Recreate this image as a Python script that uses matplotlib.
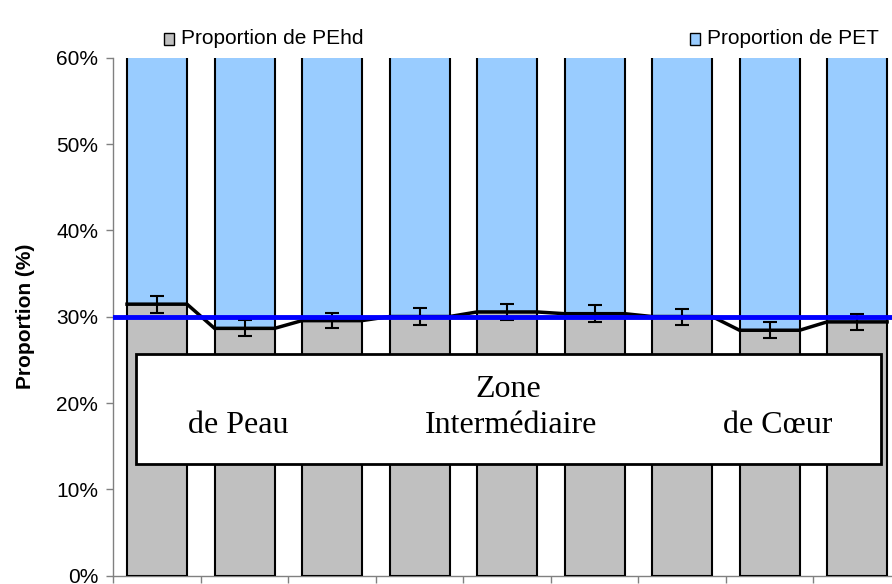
import matplotlib
matplotlib.use("Agg")
import matplotlib.pyplot as plt
from matplotlib.patches import Rectangle
import numpy as np

# ---- data ----
categories = [f"Z{i}" for i in range(1, 10)]
pehd = [31.45, 28.65, 29.55, 30.02, 30.55, 30.35, 30.02, 28.43, 29.4]
pehd_err = [0.97, 0.93, 0.85, 0.97, 0.97, 0.97, 0.93, 0.93, 0.95]
pet = [100 - v for v in pehd]
reference_level = 30.0
series_names = ["Proportion de PEhd", "Proportion de PET"]
yticks = [0, 10, 20, 30, 40, 50, 60]
ytick_labels = ["0%", "10%", "20%", "30%", "40%", "50%", "60%"]
zone_labels = ["Zone", "de Peau", "Intermédiaire", "de Cœur"]

GRAY = "#C0C0C0"
BLUE = "#99CCFF"

fig = plt.figure(figsize=(8.92, 5.84), dpi=100)
ax = fig.add_axes([0.1270, 0.0142, 0.8829, 0.8870])

x = np.arange(len(categories))
w = 0.686
ax.bar(x, pehd, width=w, color=GRAY, edgecolor="black", linewidth=1.5, zorder=2)
ax.bar(x, pet, width=w, bottom=pehd, color=BLUE, edgecolor="black", linewidth=1.5, zorder=2)

# series lines (Excel style) connecting bar tops
sx, sy = [], []
for xi, v in zip(x, pehd):
    sx += [xi - w / 2, xi + w / 2]
    sy += [v, v]
ax.plot(sx, sy, color="black", lw=2.5, zorder=3, solid_joinstyle="miter")

ax.errorbar(x, pehd, yerr=pehd_err, fmt="none", ecolor="black", elinewidth=1.5,
            capsize=5.3, capthick=1.5, zorder=4)

ax.axhline(reference_level, color="#0000FF", lw=3.5, zorder=5)

ax.set_xlim(-0.5, len(categories) - 0.5)
ax.set_ylim(0, 60)
ax.set_yticks(yticks)
ax.set_yticklabels(ytick_labels, fontsize=15, family="Liberation Sans")
ax.set_xticks(np.arange(len(categories) + 1) - 0.5)
ax.set_xticklabels([])
ax.tick_params(axis="both", direction="out", length=5, width=1, color="#808080")
ax.tick_params(axis="y", pad=6)
for s in ["top", "right"]:
    ax.spines[s].set_visible(False)
for s in ["left", "bottom"]:
    ax.spines[s].set_color("#808080")
    ax.spines[s].set_linewidth(1)
    ax.spines[s].set_zorder(1)

ax.set_ylabel("Proportion (%)", fontsize=15, fontweight="bold", family="Liberation Sans", labelpad=15)

# zone annotation box
ax.add_patch(Rectangle((-0.241, 12.94), 8.274 + 0.241, 25.65 - 12.94,
                       facecolor="white", edgecolor="black", lw=2, zorder=6))
tkw = dict(family="Liberation Serif", fontsize=23, ha="center", va="baseline", zorder=7)
ax.text(4.02, 20.7, zone_labels[0], **tkw)
ax.text(0.931, 16.53, zone_labels[1], **tkw)
ax.text(4.045, 16.53, zone_labels[2], **tkw)
ax.text(7.091, 16.53, zone_labels[3], **tkw)

# legend (two separated entries)
leg_y = 1 - 39 / 584
for name, col, x0 in [(series_names[0], GRAY, 164), (series_names[1], BLUE, 690)]:
    fig.patches.append(Rectangle((x0 / 892, leg_y - 5.5 / 584), 10 / 892, 11 / 584,
                                 transform=fig.transFigure, facecolor=col,
                                 edgecolor="black", lw=1))
    fig.text((x0 + 17) / 892, leg_y, name, fontsize=15, family="Liberation Sans",
             va="center", ha="left")

fig.savefig("out.png", dpi=100)
